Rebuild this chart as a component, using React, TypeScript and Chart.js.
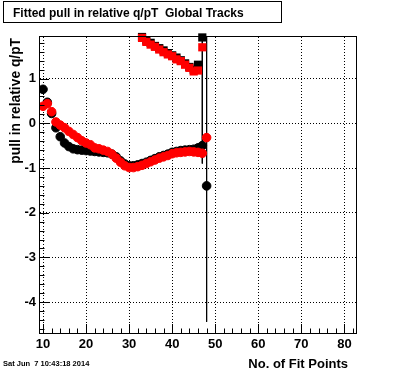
import React, { useEffect, useRef } from "react";
import { Chart, registerables } from "chart.js";

Chart.register(...registerables);

// ---- data ----
const fitPoints = [10, 11, 12, 13, 14, 15, 16, 17, 18, 19, 20, 21, 22, 23, 24, 25, 26, 27, 28, 29, 30, 31, 32, 33, 34, 35, 36, 37, 38, 39, 40, 41, 42, 43, 44, 45, 46, 47, 48];
const blackPull = [0.76, 0.47, 0.22, -0.1, -0.3, -0.44, -0.52, -0.57, -0.59, -0.6, -0.61, -0.62, -0.63, -0.64, -0.65, -0.66, -0.69, -0.75, -0.84, -0.91, -0.95, -0.95, -0.93, -0.9, -0.87, -0.83, -0.79, -0.75, -0.72, -0.69, -0.65, -0.63, -0.61, -0.6, -0.59, -0.58, -0.55, -0.5, -1.4];
const redPull = [0.38, 0.44, 0.26, 0.03, -0.04, -0.1, -0.18, -0.25, -0.32, -0.39, -0.44, -0.48, -0.55, -0.57, -0.6, -0.63, -0.69, -0.78, -0.87, -0.95, -0.99, -0.99, -0.97, -0.94, -0.9, -0.86, -0.82, -0.78, -0.75, -0.72, -0.68, -0.66, -0.65, -0.64, -0.63, -0.64, -0.65, -0.67, -0.32];

const squarePoints = [33, 34, 35, 36, 37, 38, 39, 40, 41, 42, 43, 44, 45, 46, 47];
const blackSquare = [1.93, 1.85, 1.8, 1.73, 1.68, 1.63, 1.57, 1.52, 1.47, 1.41, 1.34, 1.26, 1.2, 1.31, 1.92];
const redSquare = [1.91, 1.82, 1.76, 1.71, 1.65, 1.59, 1.54, 1.5, 1.43, 1.39, 1.31, 1.24, 1.16, 1.18, 1.7];

const errX = [47, 48];
const errHigh = [1.92, 1.93];
const errLow = [-0.9, -4.44];

const xTicks = [10, 20, 30, 40, 50, 60, 70, 80];
const yTicks = [-4, -3, -2, -1, 0, 1];

const titleText = "Fitted pull in relative q/pT  Global Tracks";
const yTitle = "pull in relative q/pT";
const xTitle = "No. of Fit Points";
const dateText = "Sat Jun  7 10:43:18 2014";

const X_MIN = 9.3;
const X_MAX = 82.7;
const Y_MIN = -4.69;
const Y_MAX = 1.93;

const FONT = '"Liberation Sans", Arial, Helvetica, sans-serif';

const rootDecor = {
  id: "rootDecor",
  afterDraw(chart: any) {
    const ctx = chart.ctx as CanvasRenderingContext2D;
    const a = chart.chartArea;
    const xs = chart.scales.x;
    const ys = chart.scales.y;
    ctx.save();
    ctx.strokeStyle = "#000";
    ctx.lineWidth = 1;
    ctx.setLineDash([]);
    // frame
    ctx.strokeRect(a.left - 0.5, a.top - 0.5, a.right - a.left + 1, a.bottom - a.top + 1);
    // x ticks (inside)
    ctx.beginPath();
    for (let v = 10; v <= X_MAX + 1e-6; v += 2) {
      const px = Math.round(xs.getPixelForValue(v)) + 0.5;
      const len = Math.abs(v % 10) < 1e-6 ? 9 : 4.5;
      ctx.moveTo(px, a.bottom);
      ctx.lineTo(px, a.bottom - len);
    }
    // y ticks (inside)
    for (let i = -23; i <= 9; i++) {
      const v = i * 0.2;
      if (v < Y_MIN || v > Y_MAX) continue;
      const py = Math.round(ys.getPixelForValue(v)) + 0.5;
      const len = i % 5 === 0 ? 9 : 4.5;
      ctx.moveTo(a.left, py);
      ctx.lineTo(a.left + len, py);
    }
    ctx.stroke();

    // title box
    ctx.fillStyle = "#fff";
    ctx.fillRect(3, 1, 279, 22);
    ctx.strokeRect(3.5, 1.5, 278, 21);
    ctx.fillStyle = "#000";
    ctx.font = `bold 12px ${FONT}`;
    ctx.textAlign = "left";
    ctx.textBaseline = "alphabetic";
    ctx.fillText(titleText, 13, 17);

    // x title
    ctx.font = `bold 13px ${FONT}`;
    ctx.textAlign = "right";
    ctx.fillText(xTitle, 348, 368);

    // y title
    ctx.save();
    ctx.translate(19.5, 38);
    ctx.rotate(-Math.PI / 2);
    ctx.font = `bold 13.8px ${FONT}`;
    ctx.textAlign = "right";
    ctx.fillText(yTitle, 0, 0);
    ctx.restore();

    // date
    ctx.font = `bold 7.5px ${FONT}`;
    ctx.textAlign = "left";
    ctx.fillText(dateText, 3, 366);
    ctx.restore();
  },
};

export default function App() {
  const ref = useRef<HTMLCanvasElement>(null);
  useEffect(() => {
    const canvas = ref.current;
    if (!canvas) return;
    const pts = (xs: number[], ys: number[]) => xs.map((x, i) => ({ x, y: ys[i] }));
    const errSets = errX.map((x, i) => ({
      type: "line" as const,
      data: [
        { x, y: errHigh[i] },
        { x, y: errLow[i] },
      ],
      showLine: true,
      borderColor: "#000",
      borderWidth: 1,
      pointRadius: 0,
      order: 10,
    }));
    const chart = new Chart(canvas, {
      type: "scatter",
      data: {
        datasets: [
          ...errSets,
          {
            data: pts(squarePoints, blackSquare),
            pointStyle: "rect",
            pointRadius: 5.8,
            pointBorderWidth: 0,
            backgroundColor: "#000",
            borderColor: "#000",
            clip: false,
            order: 4,
          },
          {
            data: pts(squarePoints, redSquare),
            pointStyle: "rect",
            pointRadius: 5.8,
            pointBorderWidth: 0,
            backgroundColor: "#ff0000",
            borderColor: "#ff0000",
            clip: false,
            order: 3,
          },
          {
            data: pts(fitPoints, blackPull),
            pointStyle: "circle",
            pointRadius: 4.3,
            pointBorderWidth: 1,
            backgroundColor: "#000",
            borderColor: "#000",
            order: 2,
          },
          {
            data: pts(fitPoints, redPull),
            pointStyle: "circle",
            pointRadius: 4.3,
            pointBorderWidth: 1,
            backgroundColor: "#ff0000",
            borderColor: "#ff0000",
            order: 1,
          },
        ] as any,
      },
      options: {
        responsive: false,
        animation: false,
        events: [],
        layout: { padding: { left: 0, top: 37, right: 40, bottom: 0 } },
        plugins: {
          legend: { display: false },
          tooltip: { enabled: false },
          title: { display: false },
        },
        scales: {
          x: {
            type: "linear",
            min: X_MIN,
            max: X_MAX,
            afterFit: (s: any) => {
              s.height = 39;
            },
            afterBuildTicks: (s: any) => {
              s.ticks = xTicks.map((v) => ({ value: v }));
            },
            ticks: {
              color: "#000",
              font: { family: FONT, size: 13, weight: "bold" },
              padding: 4,
              maxRotation: 0,
              autoSkip: false,
            },
            grid: { color: "#000", lineWidth: 1, drawTicks: false },
            border: { display: false, dash: [1, 2] },
          },
          y: {
            type: "linear",
            min: Y_MIN,
            max: Y_MAX,
            afterFit: (s: any) => {
              s.width = 40;
            },
            afterBuildTicks: (s: any) => {
              s.ticks = yTicks.map((v) => ({ value: v }));
            },
            ticks: {
              color: "#000",
              font: { family: FONT, size: 13, weight: "bold" },
              padding: 4,
              autoSkip: false,
            },
            grid: { color: "#000", lineWidth: 1, drawTicks: false },
            border: { display: false, dash: [1, 2] },
          },
        },
      } as any,
      plugins: [rootDecor],
    });
    return () => chart.destroy();
  }, []);
  return (
    <div style={{ position: "absolute", left: 0, top: 0, width: 396, height: 372, background: "#fff" }}>
      <canvas ref={ref} width={396} height={372} style={{ width: 396, height: 372, display: "block" }} />
    </div>
  );
}
